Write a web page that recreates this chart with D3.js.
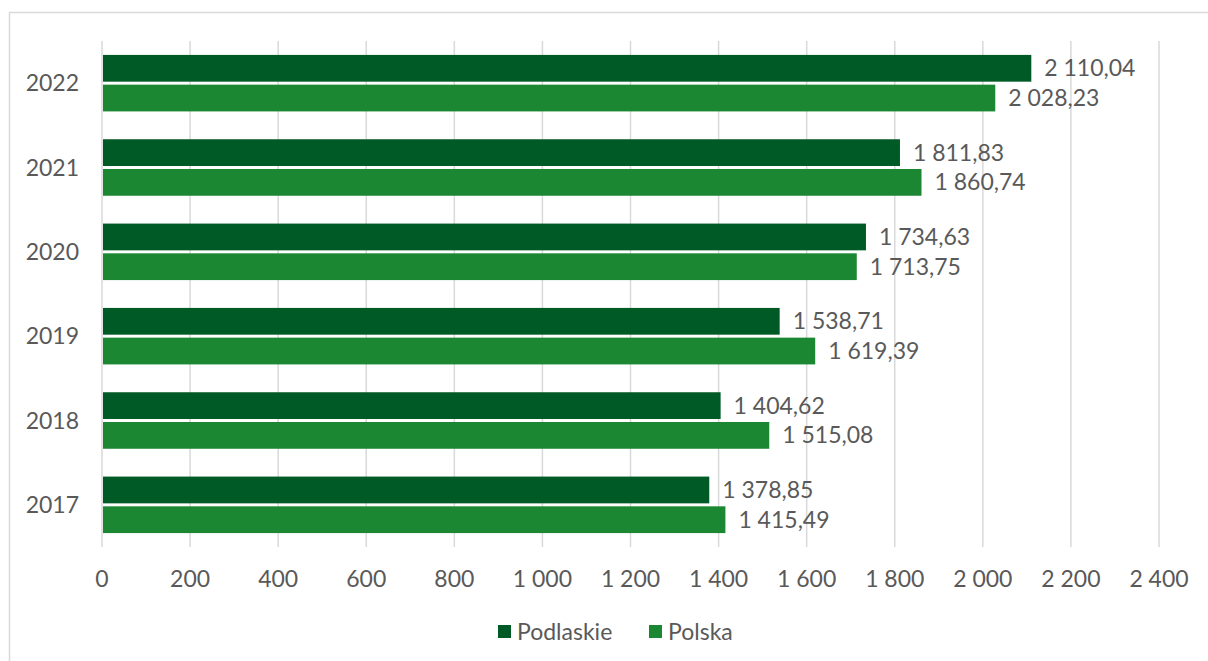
<!DOCTYPE html>
<html>
<head>
<meta charset="utf-8">
<script src="https://cdn.jsdelivr.net/npm/d3@7"></script>
<style>
  body { margin: 0; background: #fff; }
  svg text { font-family: "Lato", "Open Sans", sans-serif; fill: #595959; }
</style>
</head>
<body>
<script>
// chart data
const years = ["2022", "2021", "2020", "2019", "2018", "2017"];
const podlaskie = [2110.04, 1811.83, 1734.63, 1538.71, 1404.62, 1378.85];
const polska = [2028.23, 1860.74, 1713.75, 1619.39, 1515.08, 1415.49];
const seriesNames = ["Podlaskie", "Polska"];
const ticks = [0, 200, 400, 600, 800, 1000, 1200, 1400, 1600, 1800, 2000, 2200, 2400];

const colors = ["#005a25", "#1b8732"];
const width = 1208, height = 661;

const locale = d3.formatLocale({ decimal: ",", thousands: "\u00a0", grouping: [3], currency: ["", ""] });
const fmtTick = locale.format(",d");
const fmtVal = locale.format(",.2f");

const svg = d3.select("body").append("svg")
  .attr("width", width)
  .attr("height", height);

// outer frame
svg.append("rect")
  .attr("x", 9.5).attr("y", 12.5)
  .attr("width", width - 8).attr("height", height)
  .attr("fill", "none")
  .attr("stroke", "#d9d9d9")
  .attr("stroke-width", 1.5);

const x = d3.scaleLinear().domain([0, 2400]).range([102, 1159]);
const y = d3.scaleBand().domain(years).range([41, 547]).paddingInner(0.33).paddingOuter(0.165);
const inner = d3.scaleBand().domain(seriesNames).range([0, y.bandwidth()]).paddingInner(0.1);

// gridlines
svg.append("g").selectAll("line")
  .data(ticks)
  .enter().append("line")
  .attr("x1", d => x(d)).attr("x2", d => x(d))
  .attr("y1", 41).attr("y2", 547)
  .attr("stroke", "#d9d9d9")
  .attr("stroke-width", 1.5);

// tick labels
svg.append("g").selectAll("text")
  .data(ticks)
  .enter().append("text")
  .attr("x", d => x(d))
  .attr("y", 579)
  .attr("dy", "0.35em")
  .attr("text-anchor", "middle")
  .style("font-size", "23px")
  .text(d => fmtTick(d));

// year labels
svg.append("g").selectAll("text")
  .data(years)
  .enter().append("text")
  .attr("x", 79)
  .attr("y", d => y(d) + y.bandwidth() / 2)
  .attr("dy", "0.35em")
  .attr("text-anchor", "end")
  .style("font-size", "23px")
  .text(d => d);

const rows = [];
years.forEach((yr, i) => {
  rows.push({ year: yr, series: "Podlaskie", value: podlaskie[i], c: colors[0] });
  rows.push({ year: yr, series: "Polska", value: polska[i], c: colors[1] });
});

const bars = svg.append("g");
bars.selectAll("rect")
  .data(rows)
  .enter().append("rect")
  .attr("x", x(0) + 1)
  .attr("y", d => y(d.year) + inner(d.series))
  .attr("width", d => x(d.value) - x(0) - 1)
  .attr("height", inner.bandwidth())
  .attr("fill", d => d.c);

bars.selectAll("text")
  .data(rows)
  .enter().append("text")
  .attr("x", d => x(d.value) + 13)
  .attr("y", d => y(d.year) + inner(d.series) + inner.bandwidth() / 2)
  .attr("dy", "0.35em")
  .style("font-size", "23px")
  .text(d => fmtVal(d.value));

// legend
const legend = svg.append("g");
const legendX = [498, 649];
seriesNames.forEach((s, i) => {
  legend.append("rect")
    .attr("x", legendX[i]).attr("y", 625)
    .attr("width", 13).attr("height", 13)
    .attr("fill", colors[i]);
  legend.append("text")
    .attr("x", legendX[i] + 19).attr("y", 632)
    .attr("dy", "0.35em")
    .style("font-size", "23px")
    .text(s);
});
</script>
</body>
</html>
